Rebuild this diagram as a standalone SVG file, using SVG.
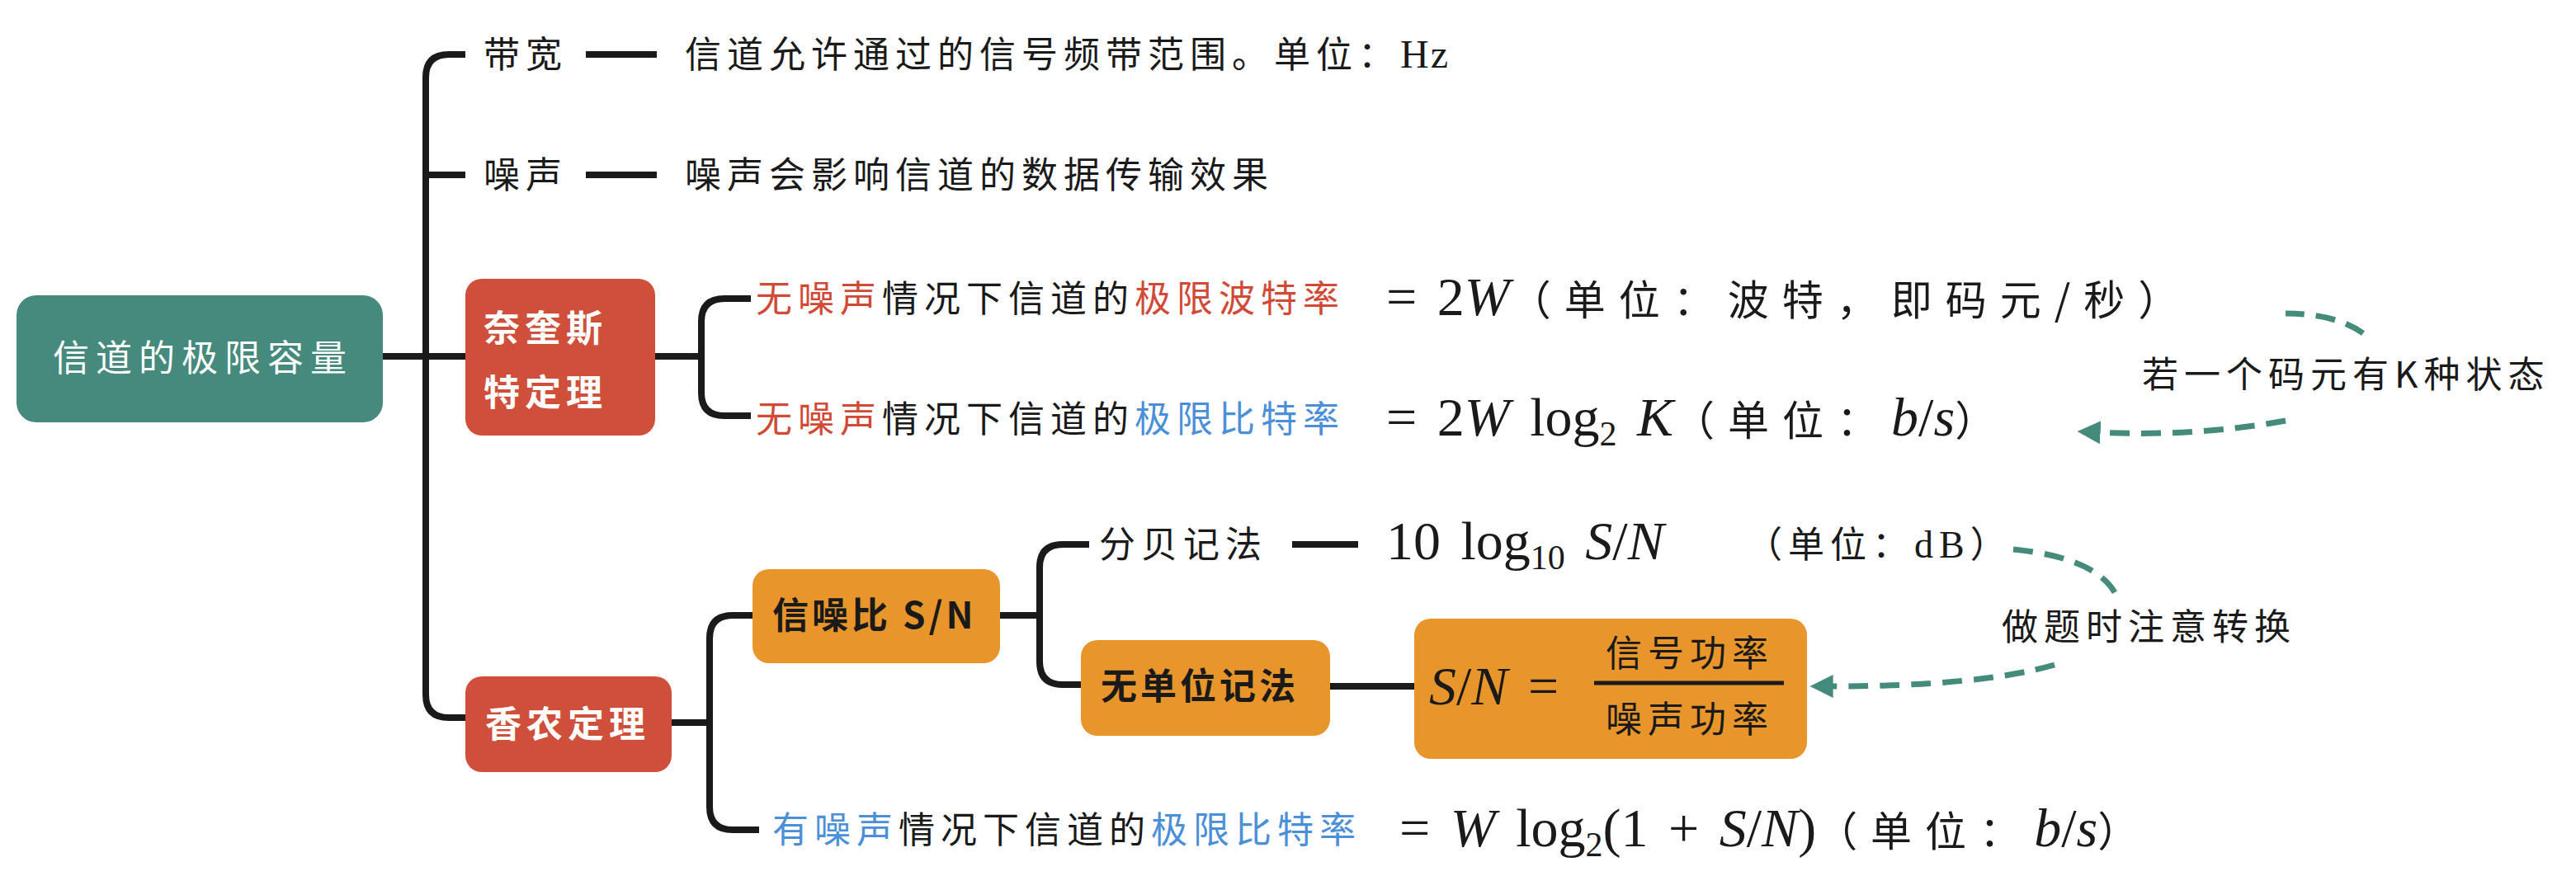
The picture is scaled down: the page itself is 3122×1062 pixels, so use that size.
<svg xmlns="http://www.w3.org/2000/svg" width="3122" height="1062" viewBox="0 0 3122 1062">
<defs>
<style>
.cn{font-family:"Noto Sans CJK SC","Noto Sans",sans-serif;font-size:22px;letter-spacing:3.5px;fill:#1a1a1a}
.m{font-family:"Liberation Serif","DejaVu Serif",serif;font-size:33px;word-spacing:4px;fill:#1a1a1a}
.mc{font-family:"Noto Sans CJK SC",sans-serif;font-size:25px;letter-spacing:8px}
.i{font-style:italic}
.red{fill:#d04a36}.blue{fill:#4a8fd8}
.ln{fill:none;stroke:#1a1a1a;stroke-width:4;stroke-linejoin:round}
.dash{fill:none;stroke:#458b7c;stroke-width:3.5;stroke-dasharray:12 7}
.wb{font-family:"Noto Sans CJK SC",sans-serif;font-size:22px;letter-spacing:3px;font-weight:bold;fill:#fff}
.bb{font-family:"Noto Sans CJK SC",sans-serif;font-size:22px;letter-spacing:2px;font-weight:bold;fill:#1a1a1a}
</style>
<marker id="ah" viewBox="0 0 10 10" refX="2" refY="5" markerWidth="4" markerHeight="4" orient="auto"><path d="M0,0L10,5L0,10z" fill="#458b7c"/></marker>
</defs>
<rect width="3122" height="1062" fill="#fff"/>
<g transform="scale(2)">
<g id="connectors">
<path class="ln" d="M232,216H282"/>
<path class="ln" d="M282,33H272Q258,33 258,47V421Q258,435 272,435H282"/>
<path class="ln" d="M258,106Q258,106 282,106"/>
<path class="ln" d="M355,33H398M355,106H398"/>
<path class="ln" d="M397,216H425M455,181H439Q425,181 425,195V238Q425,252 439,252H455"/>
<path class="ln" d="M407,438H430M456,373H444Q430,373 430,387V489Q430,503 444,503H460"/>
<path class="ln" d="M606,373H630M660,330H644Q630,330 630,344V401Q630,415 644,415H655"/>
<path class="ln" d="M783,330H823M806,416H857"/>
<path class="dash" d="M1432,202Q1415,190 1385,190"/>
<path class="dash" d="M1385,255Q1330,265 1270,262" marker-end="url(#ah)"/>
<path class="dash" d="M1220,333Q1270,338 1282,360"/>
<path class="dash" d="M1245,403Q1200,416 1108,416" marker-end="url(#ah)"/>
</g>
<g id="root"><rect x="10" y="179" width="222" height="77" rx="12" fill="#458a7c"/><text x="123" y="225" text-anchor="middle" font-family="Noto Sans CJK SC,sans-serif" font-size="22" letter-spacing="4" fill="#fff">信道的极限容量</text></g>
<g id="bw"><text class="cn" x="293" y="41">带宽</text><text class="cn" x="415" y="41">信道允许通过的信号频带范围。单位：<tspan font-family="Liberation Serif,serif" font-size="24" letter-spacing="1">Hz</tspan></text></g>
<g id="noise"><text class="cn" x="293" y="114">噪声</text><text class="cn" x="415" y="114">噪声会影响信道的数据传输效果</text></g>
<g id="nyq"><rect x="282" y="169" width="115" height="95" rx="10" fill="#d04f3b"/><text class="wb" x="293" y="207">奈奎斯</text><text class="wb" x="293" y="246">特定理</text></g>
<g id="nyq1"><text class="cn" x="458" y="189"><tspan class="red">无噪声</tspan>情况下信道的<tspan class="red">极限波特率</tspan></text><text class="m" x="840" y="191">= 2<tspan class="i">W</tspan><tspan class="mc">（单位：波特，即码元/秒）</tspan></text></g>
<g id="nyq2"><text class="cn" x="458" y="262"><tspan class="red">无噪声</tspan>情况下信道的<tspan class="blue">极限比特率</tspan></text><text class="m" x="840" y="264">= 2<tspan class="i">W</tspan> log<tspan font-size="21" dy="6">2</tspan> <tspan class="i" dy="-6">K</tspan><tspan class="mc">（单位：</tspan><tspan class="i">b</tspan>/<tspan class="i">s</tspan><tspan class="mc">）</tspan></text></g>
<g id="note1"><text class="cn" x="1298" y="235" font-size="20" letter-spacing="4">若一个码元有K种状态</text></g>
<g id="shannon"><rect x="282" y="410" width="125" height="58" rx="10" fill="#d04f3b"/><text class="wb" x="294" y="447">香农定理</text></g>
<g id="snr"><rect x="456" y="345" width="150" height="57" rx="10" fill="#e8952b"/><text class="bb" x="468" y="381">信噪比 S/N</text></g>
<g id="db"><text class="cn" x="666" y="338">分贝记法</text><text class="m" x="840" y="339">10 log<tspan font-size="21" dy="6">10</tspan> <tspan class="i" dy="-6">S</tspan>/<tspan class="i">N</tspan></text><text class="cn" x="1058" y="338" font-size="21" letter-spacing="2">（单位：<tspan font-family="Liberation Serif,serif" font-size="23">dB</tspan>）</text></g>
<g id="nounit"><rect x="655" y="388" width="151" height="58" rx="10" fill="#e8952b"/><text class="bb" x="667" y="424">无单位记法</text></g>
<g id="frac"><rect x="857" y="375" width="238" height="85" rx="10" fill="#e8952b"/><text class="m" x="866" y="427" font-size="29"><tspan class="i">S</tspan>/<tspan class="i">N</tspan> =</text><text class="cn" x="1024" y="404" text-anchor="middle" letter-spacing="6">信号功率</text><line x1="966" y1="414" x2="1081" y2="414" stroke="#1a1a1a" stroke-width="2.5"/><text class="cn" x="1024" y="444" text-anchor="middle" letter-spacing="6">噪声功率</text></g>
<g id="note2"><text class="cn" x="1213" y="388" font-size="20" letter-spacing="4">做题时注意转换</text></g>
<g id="sh1"><text class="cn" x="468" y="511"><tspan class="blue">有噪声</tspan>情况下信道的<tspan class="blue">极限比特率</tspan></text><text class="m" x="848" y="513">= <tspan class="i">W</tspan> log<tspan font-size="21" dy="6">2</tspan><tspan dy="-6">(1 + </tspan><tspan class="i">S</tspan>/<tspan class="i">N</tspan>)<tspan class="mc">（单位：</tspan><tspan class="i">b</tspan>/<tspan class="i">s</tspan><tspan class="mc">）</tspan></text></g>
</g>
</svg>
